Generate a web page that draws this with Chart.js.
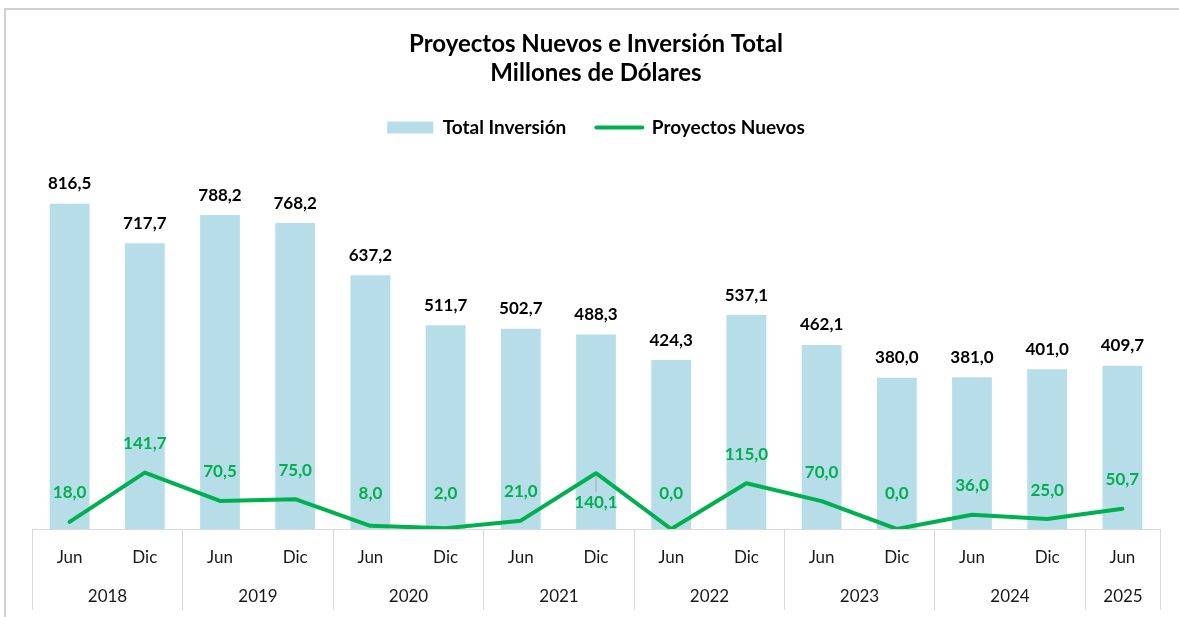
<!DOCTYPE html>
<html lang="es">
<head>
<meta charset="utf-8">
<title>Proyectos Nuevos e Inversión Total</title>
<script src="https://cdn.jsdelivr.net/npm/chart.js@4.4.1/dist/chart.umd.min.js"></script>
<style>
  html, body { margin: 0; padding: 0; background: #fff; }
  #marco {
    position: absolute; left: 4px; top: 8px; width: 1175px; height: 609px;
    border-left: 2px solid #d0d0d0; border-top: 2px solid #d0d0d0; box-sizing: border-box;
  }
  #contenedor { position: absolute; left: 0; top: 0; width: 1179px; height: 617px; }
</style>
</head>
<body>
<div id="marco"></div>
<div id="contenedor"><canvas id="grafico"></canvas></div>
<script>
// Datos del gráfico (semestres)
var meses = ["Jun", "Dic", "Jun", "Dic", "Jun", "Dic", "Jun", "Dic", "Jun", "Dic", "Jun", "Dic", "Jun", "Dic", "Jun"];
var aniosCategoria = ["2018", "2018", "2019", "2019", "2020", "2020", "2021", "2021", "2022", "2022", "2023", "2023", "2024", "2024", "2025"];
var totalInversion = [816.5, 717.7, 788.2, 768.2, 637.2, 511.7, 502.7, 488.3, 424.3, 537.1, 462.1, 380.0, 381.0, 401.0, 409.7];
var proyectosNuevos = [18.0, 141.7, 70.5, 75.0, 8.0, 2.0, 21.0, 140.1, 0.0, 115.0, 70.0, 0.0, 36.0, 25.0, 50.7];

var nombreBarras = "Total Inversión";
var nombreLinea = "Proyectos Nuevos";
var titulo = ["Proyectos Nuevos e Inversión Total", "Millones de Dólares"];

// Etiquetas de la línea que van debajo del punto
var etiquetasAbajo = [7];

var colorBarras = "#b7dee8";
var colorLinea = "#00b050";
var fuente = "Lato, 'Open Sans', sans-serif";

// Formato con coma decimal
function formato(v) {
  return v.toFixed(1).replace(".", ",");
}

// Etiquetas de datos, años y separadores del eje X
var pluginExtras = {
  id: "extras",
  afterDatasetsDraw: function (chart) {
    var ctx = chart.ctx;
    ctx.save();
    ctx.textAlign = "center";
    ctx.textBaseline = "middle";

    // Barras
    ctx.font = "bold 17px " + fuente;
    ctx.fillStyle = "#000";
    chart.getDatasetMeta(0).data.forEach(function (el, i) {
      ctx.fillText(formato(totalInversion[i]), el.x, el.y - 20);
    });

    // Línea
    ctx.fillStyle = colorLinea;
    chart.getDatasetMeta(1).data.forEach(function (el, i) {
      if (etiquetasAbajo.indexOf(i) >= 0) {
        ctx.strokeStyle = "#a6a6a6";
        ctx.lineWidth = 1;
        ctx.beginPath();
        ctx.moveTo(el.x, el.y + 3);
        ctx.lineTo(el.x, el.y + 19);
        ctx.stroke();
        ctx.fillText(formato(proyectosNuevos[i]), el.x, el.y + 29);
      } else {
        ctx.fillText(formato(proyectosNuevos[i]), el.x, Math.min(el.y - 29, 494));
      }
    });
    ctx.restore();
  },
  afterDraw: function (chart) {
    var ctx = chart.ctx;
    var ejeX = chart.scales.x;
    var paso = ejeX.width / meses.length;
    var arriba = ejeX.top;
    var abajo = ejeX.top + 81;
    ctx.save();
    ctx.strokeStyle = "#d9d9d9";
    ctx.lineWidth = 1;
    ctx.fillStyle = "#1a1a1a";
    ctx.font = "17px " + fuente;
    ctx.textAlign = "center";
    ctx.textBaseline = "middle";

    var inicio = 0;
    for (var i = 1; i <= aniosCategoria.length; i++) {
      if (i === aniosCategoria.length || aniosCategoria[i] !== aniosCategoria[inicio]) {
        var izq = Math.round(ejeX.left + inicio * paso) + 0.5;
        var der = Math.round(ejeX.left + i * paso) + 0.5;
        ctx.beginPath();
        ctx.moveTo(izq, arriba);
        ctx.lineTo(izq, abajo);
        ctx.moveTo(der, arriba);
        ctx.lineTo(der, abajo);
        ctx.stroke();
        ctx.fillText(aniosCategoria[inicio], (izq + der) / 2, arriba + 68);
        inicio = i;
      }
    }
    ctx.restore();
  }
};

var grafico = new Chart(document.getElementById("grafico"), {
  type: "bar",
  data: {
    labels: meses,
    datasets: [
      {
        type: "bar",
        label: nombreBarras,
        data: totalInversion,
        backgroundColor: colorBarras,
        categoryPercentage: 1,
        barPercentage: 0.53,
        order: 1
      },
      {
        type: "line",
        label: nombreLinea,
        data: proyectosNuevos,
        borderColor: colorLinea,
        backgroundColor: colorLinea,
        borderWidth: 4,
        pointRadius: 0,
        tension: 0,
        borderCapStyle: "round",
        borderJoinStyle: "round",
        order: 0
      }
    ]
  },
  options: {
    responsive: true,
    maintainAspectRatio: false,
    animation: false,
    layout: { padding: { left: 32, right: 19, top: 0, bottom: 0 } },
    plugins: {
      tooltip: { enabled: false },
      title: {
        display: true,
        text: titulo,
        color: "#000",
        font: { family: fuente, size: 24, weight: "bold", lineHeight: 1.21 },
        padding: { top: 30, bottom: 0 }
      },
      legend: {
        display: true,
        labels: {
          usePointStyle: true,
          pointStyleWidth: 46,
          boxHeight: 12,
          padding: 30,
          color: "#000",
          font: { family: fuente, size: 19, weight: "bold" },
          generateLabels: function () {
            return [
              { text: nombreBarras, fillStyle: colorBarras, strokeStyle: colorBarras, lineWidth: 0, pointStyle: "rect", datasetIndex: 0, fontColor: "#000" },
              { text: nombreLinea, fillStyle: colorLinea, strokeStyle: colorLinea, lineWidth: 4, lineCap: "round", pointStyle: "line", datasetIndex: 1, fontColor: "#000" }
            ];
          }
        }
      }
    },
    scales: {
      x: {
        grid: { display: false },
        border: { display: true, color: "#d9d9d9", width: 1 },
        ticks: { color: "#1a1a1a", padding: 10, font: { family: fuente, size: 17 } },
        afterFit: function (eje) { eje.height = 88; }
      },
      y: {
        display: false,
        min: 0,
        max: 959
      }
    }
  },
  plugins: [pluginExtras]
});
</script>
</body>
</html>
